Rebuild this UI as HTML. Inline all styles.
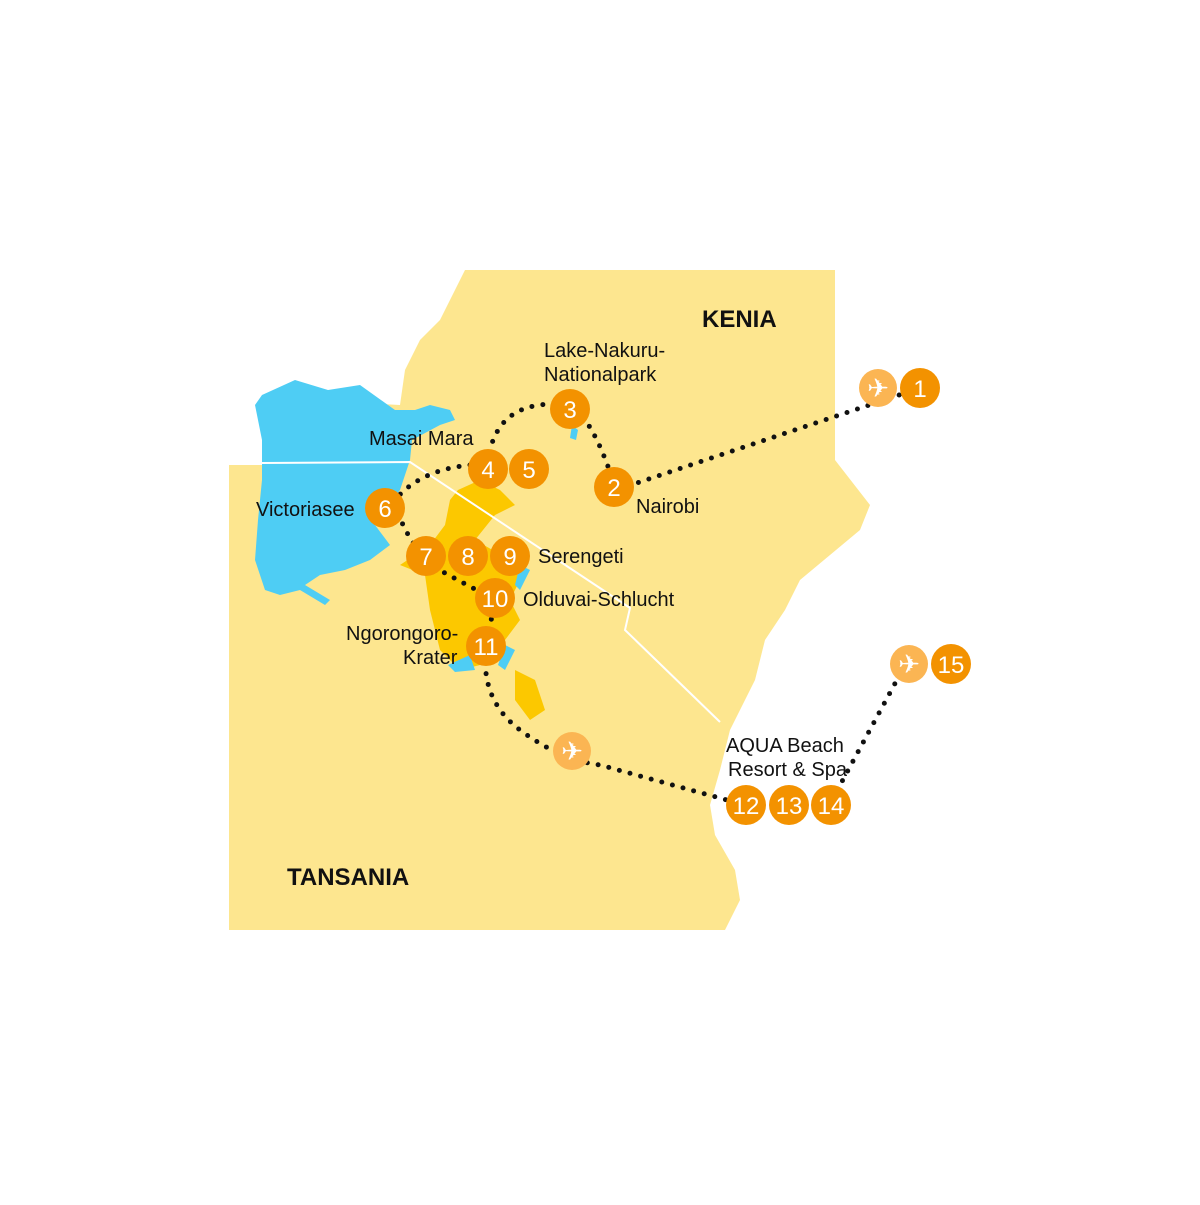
<!DOCTYPE html>
<html><head><style>
body{margin:0;background:#fff}
svg text{font-family:"Liberation Sans","DejaVu Sans",sans-serif}
</style></head><body>
<svg width="1200" height="1200" viewBox="0 0 1200 1200" xmlns="http://www.w3.org/2000/svg">
<path fill="#fde68f" d="M465,270 L835,270 L835,460 L870,505 L860,530 L830,555 L800,580 L785,610 L765,640 L755,680 L745,700 L730,730 L720,770 L710,805 L715,835 L735,870 L740,900 L725,930 L229,930 L229,465 L262,465 L262,420 L300,400 L400,405 L405,370 L420,340 L440,320 L455,290 Z"/>
<path fill="#4ecdf4" d="M262,395 L295,380 L328,390 L360,385 L395,410 L415,410 L430,405 L450,410 L455,420 L440,425 L412,440 L410,460 L400,490 L385,510 L375,525 L390,545 L370,560 L345,570 L320,575 L305,585 L330,600 L325,605 L300,590 L280,595 L265,590 L255,560 L258,520 L262,480 L262,440 L255,405 Z"/>
<path fill="#fcc800" d="M458,490 L480,480 L500,490 L515,505 L495,515 L475,540 L510,560 L520,580 L510,600 L520,620 L505,640 L500,660 L480,665 L460,670 L440,650 L430,610 L425,575 L400,565 L430,545 L445,525 L450,500 Z"/>
<path fill="#fcc800" d="M515,670 L535,680 L545,710 L530,720 L515,700 Z"/>
<path fill="#4ecdf4" d="M448,665 L470,655 L475,670 L455,672 Z M505,645 L515,650 L505,670 L498,665 Z M520,565 L530,570 L520,590 L515,585 Z M572,425 L578,430 L576,440 L570,438 Z"/>
<path fill="none" stroke="#fff" stroke-width="2" d="M262,463 L410,462 L630,608 L625,630 L720,722"/>
<g fill="none" stroke="#111" stroke-width="5" stroke-linecap="round" stroke-dasharray="0 11">
<path d="M920,388 L625,487"/>
<path d="M615,487 Q600,440 585,420 Q570,400 540,405 Q500,410 490,450"/>
<path d="M470,465 Q420,470 395,500 Q400,530 430,565 L495,600 L486,647 Q480,700 520,730 Q560,760 600,765 L745,805"/>
<path d="M832,800 L905,665"/>
</g>
<g fill="#fbb553"><circle cx="878" cy="388" r="19"/><circle cx="909" cy="664" r="19"/><circle cx="572" cy="751" r="19"/></g>
<g fill="#fff" font-size="26" text-anchor="middle"><text x="878" y="397">✈</text><text x="909" y="673">✈</text><text x="572" y="760">✈</text></g>
<g fill="#f39200">
<circle cx="920" cy="388" r="20"/><circle cx="614" cy="487" r="20"/><circle cx="570" cy="409" r="20"/><circle cx="488" cy="469" r="20"/><circle cx="529" cy="469" r="20"/><circle cx="385" cy="508" r="20"/><circle cx="426" cy="556" r="20"/><circle cx="468" cy="556" r="20"/><circle cx="510" cy="556" r="20"/><circle cx="495" cy="598" r="20"/><circle cx="486" cy="646" r="20"/><circle cx="746" cy="805" r="20"/><circle cx="789" cy="805" r="20"/><circle cx="831" cy="805" r="20"/><circle cx="951" cy="664" r="20"/>
</g>
<g fill="#fff" font-size="24" text-anchor="middle">
<text x="920" y="397">1</text><text x="614" y="496">2</text><text x="570" y="418">3</text><text x="488" y="478">4</text><text x="529" y="478">5</text><text x="385" y="517">6</text><text x="426" y="565">7</text><text x="468" y="565">8</text><text x="510" y="565">9</text><text x="495" y="607">10</text><text x="486" y="655">11</text><text x="746" y="814">12</text><text x="789" y="814">13</text><text x="831" y="814">14</text><text x="951" y="673">15</text>
</g>
<g fill="#111" font-size="20">
<text x="702" y="327" font-weight="bold" font-size="24">KENIA</text>
<text x="287" y="885" font-weight="bold" font-size="24">TANSANIA</text>
<text x="544" y="357">Lake-Nakuru-</text><text x="544" y="381">Nationalpark</text>
<text x="369" y="445">Masai Mara</text>
<text x="256" y="516">Victoriasee</text>
<text x="636" y="513">Nairobi</text>
<text x="538" y="563">Serengeti</text>
<text x="523" y="606">Olduvai-Schlucht</text>
<text x="346" y="640">Ngorongoro-</text><text x="403" y="664">Krater</text>
<text x="726" y="752">AQUA Beach</text><text x="728" y="776">Resort &amp; Spa</text>
</g>
</svg>
</body></html>
